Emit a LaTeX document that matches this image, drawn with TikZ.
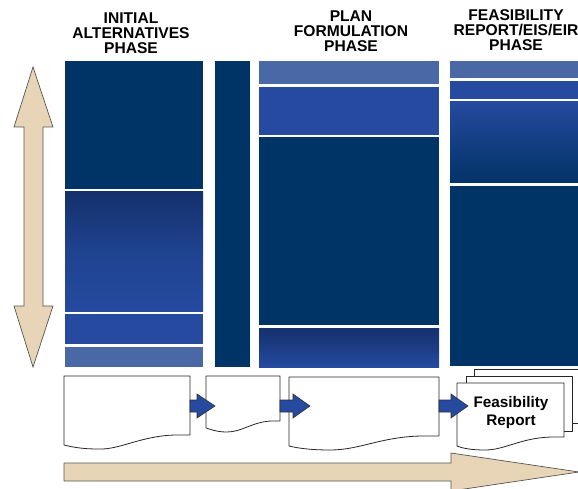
\documentclass[tikz,border=0pt]{standalone}
\usepackage{fontspec}
\setmainfont{Liberation Sans}
\definecolor{navy}{HTML}{003366}
\definecolor{midblue}{HTML}{254A9F}
\definecolor{lightblue}{HTML}{4A67A6}
\definecolor{gdark}{HTML}{14316C}
\definecolor{beige}{HTML}{E8D4B6}
\definecolor{edge}{HTML}{555555}
\tikzset{
  blk/.style={draw=white!85!gray, line width=0.6pt},
  docbox/.style={draw=black!85, line width=0.8pt, fill=white, line join=round},
  blockarrow/.style={draw=black!80, line width=0.6pt, fill=midblue},
  bigarrow/.style={draw=edge, line width=0.7pt, fill=beige},
  hdr/.style={font=\bfseries\fontsize{15.6}{15}\selectfont, align=center, inner sep=0pt},
  doctext/.style={font=\bfseries\fontsize{15.3}{18}\selectfont, align=center, inner sep=0pt}
}
\begin{document}
\begin{tikzpicture}[x=1pt,y=-1pt]
\useasboundingbox (0,0) rectangle (578,489);
\clip (0,0) rectangle (578,489);

% headers
\node[hdr] (h1) at (131,33) {INITIAL\\ALTERNATIVES\\PHASE};
\node[hdr] (h2) at (351,31) {PLAN\\FORMULATION\\PHASE};
\node[hdr] (h3) at (516,30) {FEASIBILITY\\REPORT/EIS/EIR\\PHASE};

% column 1
\fill[navy] (65,61) rectangle (203,189);
\shade[top color=gdark, bottom color=midblue, middle color=midblue!70!gdark] (65,192) rectangle (203,311);
\fill[midblue] (65,314) rectangle (203,344);
\fill[lightblue] (65,347) rectangle (203,367);
% column 2
\fill[navy] (215,61) rectangle (250,367);
% column 3
\fill[lightblue] (259,61) rectangle (439,84);
\fill[midblue] (259,87) rectangle (439,135);
\fill[navy] (259,137) rectangle (439,325);
\shade[top color=gdark, bottom color=midblue] (259,328) rectangle (439,367);
% column 4
\fill[lightblue] (450,61) rectangle (580,78);
\fill[midblue] (450,81) rectangle (580,99);
\shade[top color=midblue, bottom color=navy!90!gdark] (450,102) rectangle (580,183);
\fill[navy] (450,186) rectangle (580,366);

% left vertical double arrow
\draw[bigarrow] (33,67) coordinate (vtop) -- (53,127) -- (43,127) -- (43,306) -- (53,306)
  -- (33,367) coordinate (vbot) -- (14,306) -- (24,306) -- (24,127) -- (14,127) -- cycle;

% bottom horizontal arrow
\draw[bigarrow] (64,463) coordinate (hstart) -- (451,463) -- (451,453) -- (579,472) coordinate (htip)
  -- (451,491) -- (451,481) -- (64,481) -- cycle;

% documents
\draw[docbox] (64,376) coordinate (d1) -- (190,376) -- (190,435) coordinate (d1r) -- (175,435)
  .. controls (140,436) and (120,450) .. (98,449)
  .. controls (82,449) and (72,447) .. (64,445) -- cycle;
\draw[docbox] (206,376) coordinate (d2) -- (280,376) -- (280,421) coordinate (d2r) -- (271,421)
  .. controls (252,422) and (242,432) .. (227,432)
  .. controls (216,432) and (210,429) .. (206,428) -- cycle;
\draw[docbox] (289,377) coordinate (d3) -- (439,377) -- (439,436) coordinate (d3r) -- (421,436)
  .. controls (380,437) and (360,450) .. (330,450)
  .. controls (310,450) and (297,448) .. (289,446) -- cycle;
% stacked report documents
\draw[docbox] (474,369) coordinate (d4c) -- (590,369) -- (590,423) -- (474,423) -- cycle;
\draw[docbox] (466,376) coordinate (d4b) -- (572,376) -- (572,431) -- (466,431) -- cycle;
\draw[docbox] (457,383) coordinate (d4) -- (564,383) -- (564,437) -- (551,437)
  .. controls (520,438) and (505,450) .. (485,450)
  .. controls (470,450) and (462,448) .. (457,446) -- cycle;
\node[doctext] (rep) at (511,412.5) {Feasibility\\Report};

% blue block arrows between documents
\draw[blockarrow] (190,400) -- (197,400) -- (197,394) -- (215,406) coordinate (a1) -- (197,418) -- (197,412) -- (190,412) -- cycle;
\draw[blockarrow] (280,400) -- (293,400) -- (293,394) -- (310,406) coordinate (a2) -- (293,418) -- (293,412) -- (280,412) -- cycle;
\draw[blockarrow] (439,400) -- (451,400) -- (451,394) -- (468,406) coordinate (a3) -- (451,418) -- (451,412) -- (439,412) -- cycle;
\end{tikzpicture}
\end{document}
